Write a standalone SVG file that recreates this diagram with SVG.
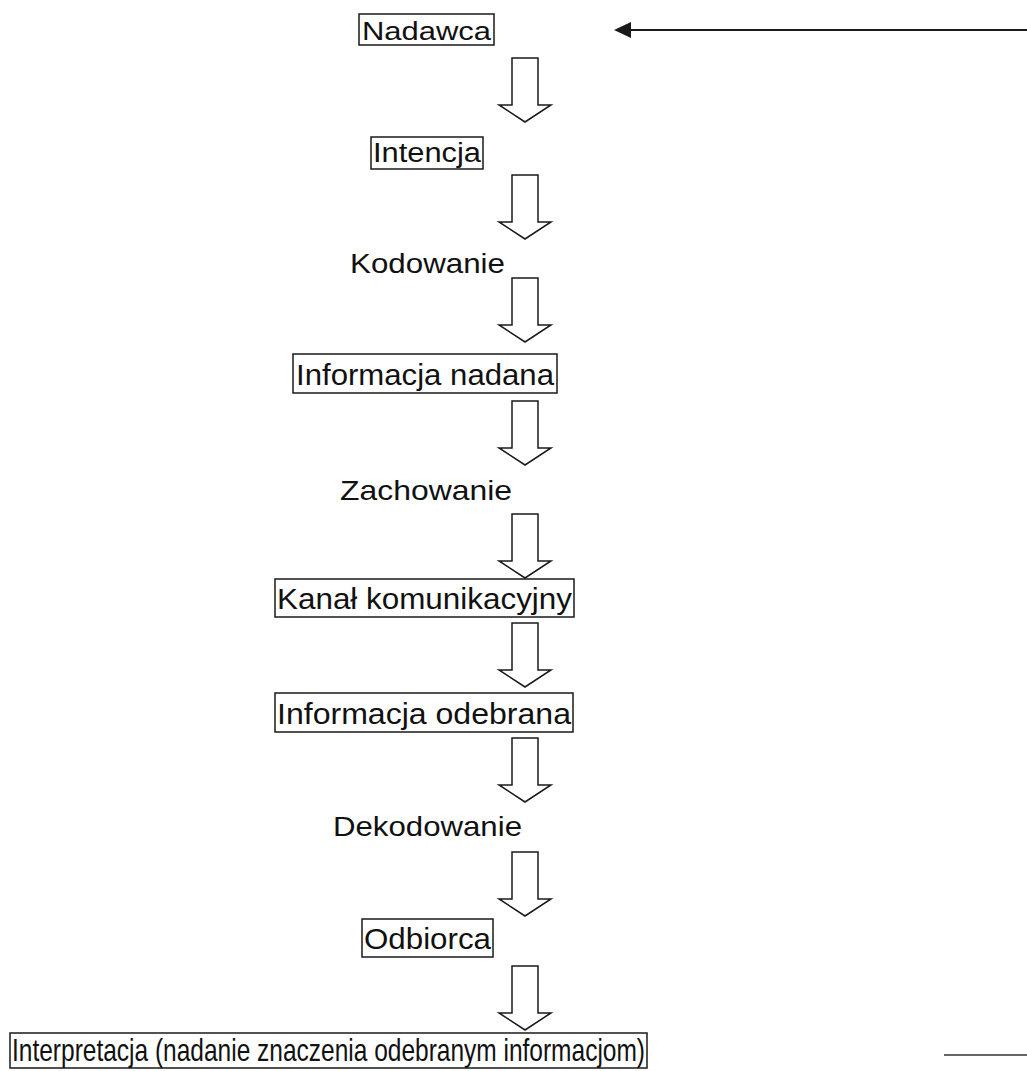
<svg xmlns="http://www.w3.org/2000/svg" xmlns:xlink="http://www.w3.org/1999/xlink" width="1027" height="1071" viewBox="0 0 1027 1071">
<style>
  .box { fill: none; stroke: #1a1a1a; stroke-width: 1.5; }
  .lbl { font-family: "Liberation Sans", Arial, sans-serif; fill: #111; }
  .arr { fill: #fff; stroke: #1a1a1a; stroke-width: 1.5; stroke-linejoin: miter; }
  .ln { stroke: #1a1a1a; stroke-width: 2; fill: none; }
</style>
<defs>
  <path id="down" class="arr" d="M-13,0 V47 H-26 L0,64 L26,47 H13 V0 Z"/>
</defs>
<rect width="1027" height="1071" fill="#fff"/>
<g id="connectors">
  <use xlink:href="#down" href="#down" x="525" y="58"/>
  <use xlink:href="#down" href="#down" x="525" y="175"/>
  <use xlink:href="#down" href="#down" x="525" y="278"/>
  <use xlink:href="#down" href="#down" x="525" y="401"/>
  <use xlink:href="#down" href="#down" x="525" y="514"/>
  <use xlink:href="#down" href="#down" x="525" y="623"/>
  <use xlink:href="#down" href="#down" x="525" y="738"/>
  <use xlink:href="#down" href="#down" x="525" y="852"/>
  <use xlink:href="#down" href="#down" x="525" y="966"/>
  <path class="ln" d="M1027,30 H630"/>
  <path d="M614,30 L631,22 L631,38 Z" fill="#1a1a1a"/>
  <path d="M944,1055 H1027" stroke="#333" stroke-width="1.5"/>
</g>
<g id="nadawca">
  <rect class="box" x="359" y="14" width="135" height="31"/>
  <text class="lbl" x="362" y="40" font-size="26" textLength="129" lengthAdjust="spacingAndGlyphs">Nadawca</text>
</g>
<g id="intencja">
  <rect class="box" x="371" y="137" width="112" height="32"/>
  <text class="lbl" x="373" y="162" font-size="27" textLength="108" lengthAdjust="spacingAndGlyphs">Intencja</text>
</g>
<g id="kodowanie">
  <text class="lbl" x="350" y="273" font-size="28" textLength="155" lengthAdjust="spacingAndGlyphs">Kodowanie</text>
</g>
<g id="informacja-nadana">
  <rect class="box" x="293" y="354" width="264" height="39"/>
  <text class="lbl" x="296" y="385" font-size="30" textLength="258" lengthAdjust="spacingAndGlyphs">Informacja nadana</text>
</g>
<g id="zachowanie">
  <text class="lbl" x="340" y="500" font-size="28" textLength="172" lengthAdjust="spacingAndGlyphs">Zachowanie</text>
</g>
<g id="kanal">
  <rect class="box" x="275" y="579" width="299" height="38"/>
  <text class="lbl" x="277" y="609" font-size="30" textLength="295" lengthAdjust="spacingAndGlyphs">Kanał komunikacyjny</text>
</g>
<g id="informacja-odebrana">
  <rect class="box" x="275" y="693" width="298" height="39"/>
  <text class="lbl" x="277" y="724" font-size="30" textLength="294" lengthAdjust="spacingAndGlyphs">Informacja odebrana</text>
</g>
<g id="dekodowanie">
  <text class="lbl" x="333" y="836" font-size="28" textLength="189" lengthAdjust="spacingAndGlyphs">Dekodowanie</text>
</g>
<g id="odbiorca">
  <rect class="box" x="362" y="919" width="131" height="38"/>
  <text class="lbl" x="364" y="949" font-size="30" textLength="127" lengthAdjust="spacingAndGlyphs">Odbiorca</text>
</g>
<g id="interpretacja">
  <rect class="box" x="10" y="1033" width="637" height="35"/>
  <text class="lbl" x="12" y="1061" font-size="32" textLength="633" lengthAdjust="spacingAndGlyphs">Interpretacja (nadanie znaczenia odebranym informacjom)</text>
</g>
</svg>
